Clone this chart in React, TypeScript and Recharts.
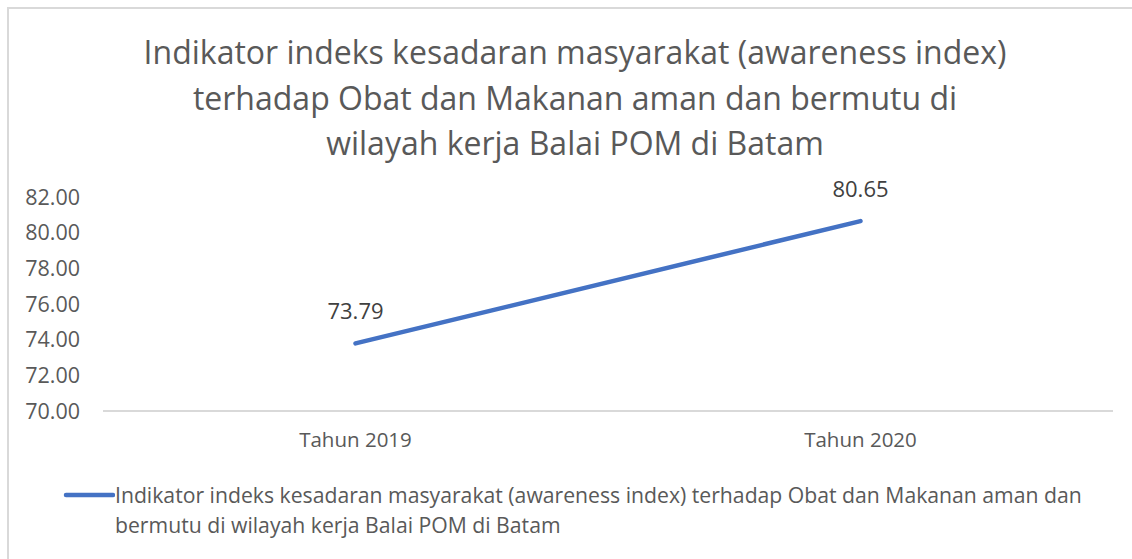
import React from "react";
import { LineChart, Line, XAxis, YAxis, LabelList } from "recharts";

const categories = ["Tahun 2019", "Tahun 2020"];
const values = [73.79, 80.65];
const yTicks = [70, 72, 74, 76, 78, 80, 82];
const seriesName =
  "Indikator indeks kesadaran masyarakat (awareness index) terhadap Obat dan Makanan aman dan bermutu di wilayah kerja Balai POM di Batam";
const titleLines = [
  "Indikator indeks kesadaran masyarakat (awareness index)",
  "terhadap Obat dan Makanan aman dan bermutu di",
  "wilayah kerja Balai POM di Batam",
];

const data = categories.map((c, i) => ({ name: c, value: values[i] }));

const FONT = "'Open Sans', sans-serif";
const LINE_COLOR = "#4472C4";

export default function App() {
  return (
    <div style={{ position: "absolute", left: 0, top: 0, width: 1132, height: 559, background: "#fff", overflow: "hidden" }}>
      <div
        style={{
          position: "absolute",
          left: 7,
          top: 7,
          width: 1140,
          height: 600,
          borderTop: "2px solid #d9d9d9",
          borderLeft: "2px solid #d9d9d9",
        }}
      />
      <div
        style={{
          position: "absolute",
          left: 18,
          top: 29,
          width: 1114,
          textAlign: "center",
          fontFamily: FONT,
          fontSize: 32,
          lineHeight: "45.5px",
          color: "#595959",
        }}
      >
        {titleLines.map((l, i) => (
          <div key={i}>{l}</div>
        ))}
      </div>
      <div style={{ position: "absolute", left: 0, top: 0 }}>
        <LineChart width={1132} height={559} data={data} margin={{ top: 197, right: 19, bottom: 108, left: 0 }}>
          <XAxis
            dataKey="name"
            scale="band"
            height={40}
            tickLine={false}
            tickSize={0}
            tickMargin={21}
            axisLine={{ stroke: "#d9d9d9", strokeWidth: 2 }}
            tick={{ fill: "#595959", fontSize: 20.5, fontFamily: FONT }}
          />
          <YAxis
            width={103}
            domain={[70, 82]}
            ticks={yTicks}
            interval={0}
            axisLine={false}
            tickLine={false}
            tickSize={0}
            tickMargin={23}
            tickFormatter={(v: number) => v.toFixed(2)}
            tick={{ fill: "#595959", fontSize: 21.5, fontFamily: FONT }}
          />
          <Line
            name={seriesName}
            type="linear"
            dataKey="value"
            stroke={LINE_COLOR}
            strokeWidth={4.5}
            strokeLinecap="round"
            dot={false}
            activeDot={false}
            isAnimationActive={false}
          >
            <LabelList
              dataKey="value"
              position="top"
              offset={24}
              formatter={(v: number) => v.toFixed(2)}
              style={{ fill: "#404040", fontSize: 22, fontFamily: FONT }}
            />
          </Line>
        </LineChart>
      </div>
      <div style={{ position: "absolute", left: 62, top: 480, display: "flex", alignItems: "flex-start", fontFamily: FONT }}>
        <svg width={53} height={30} style={{ flex: "none" }}>
          <line x1={4} y1={15} x2={51} y2={15} stroke={LINE_COLOR} strokeWidth={4.5} strokeLinecap="round" />
        </svg>
        <div style={{ width: 990, fontSize: 21.2, lineHeight: "30px", color: "#595959" }}>{seriesName}</div>
      </div>
    </div>
  );
}
